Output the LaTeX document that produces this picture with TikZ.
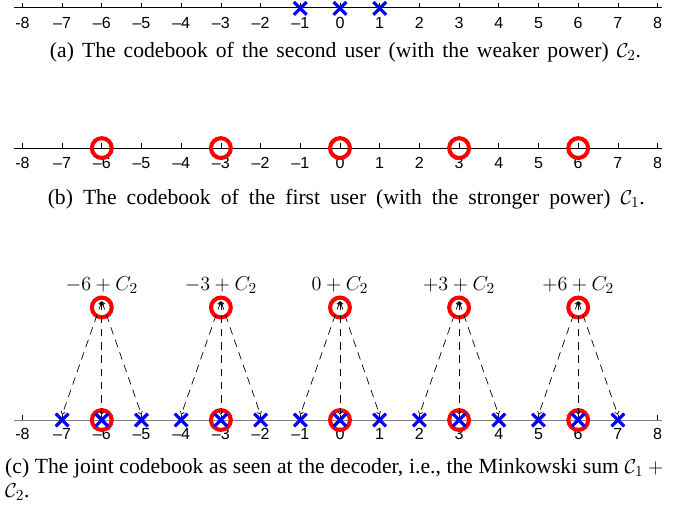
\documentclass[tikz,border=0pt]{standalone}
\usepackage{fontspec}
\setmainfont{Liberation Serif}
\newfontfamily\axisfont{Liberation Sans}
\usetikzlibrary{arrows.meta,shapes.misc}
\definecolor{markred}{RGB}{255,0,0}
\definecolor{markblue}{RGB}{0,0,255}
\definecolor{axisgray}{RGB}{128,128,128}
\newcommand\ticklist{-8/{-8},-7/{–7},-6/{–6},-5/{–5},-4/{–4},-3/{–3},-2/{–2},-1/{–1},0/0,1/1,2/2,3/3,4/4,5/5,6/6,7/7,8/8}

\begin{document}
\begin{tikzpicture}[
  axisline/.style={line width=0.7pt},
  tickmark/.style={line width=0.5pt},
  ticklab/.style={font=\axisfont\fontsize{11.5}{13}\selectfont, inner sep=0pt},
  ring/.style={circle, draw=markred, line width=2.9pt, minimum size=0.5cm, inner sep=0pt},
  xmark/.style={cross out, draw=markblue, line width=2.3pt, minimum size=0.24cm, inner sep=0pt},
  caption/.style={font=\fontsize{15.5}{18}\selectfont, inner sep=0pt},
  setlab/.style={font=\fontsize{15}{17}\selectfont, inner sep=0pt},
  link/.style={dash pattern=on 5.5pt off 4pt, line width=0.5pt,
    {Straight Barb[length=2pt,width=3pt]}-{Straight Barb[length=2pt,width=3pt]}}]
  \useasboundingbox (-8.564,-12.771) rectangle (8.892,0);

  % (a) codebook C2
  \draw[axisline] (-8.21,-0.20) -- (8.12,-0.20);
  \foreach \k/\t in \ticklist {
    \draw[tickmark] (\k,-0.20) -- (\k,-0.07);
    \node[ticklab] (la\k) at (\k,-0.58) {\t};
  }
  \foreach \k in {-1,0,1} \node[xmark] (ua\k) at (\k,-0.21) {};
  \node[caption] (capa) at (0.14,-1.31)
    {\makebox[14.89cm][s]{(a) The codebook of the second user (with the weaker power) $\mathcal{C}_2$.}};

  % (b) codebook C1
  \draw[axisline] (-8.21,-3.73) -- (8.12,-3.73);
  \foreach \k/\t in \ticklist {
    \draw[tickmark] (\k,-3.73) -- (\k,-3.60);
    \node[ticklab] (lb\k) at (\k,-4.10) {\t};
  }
  \foreach \k in {-6,-3,0,3,6} \node[ring] (ub\k) at (\k,-3.73) {};
  \node[caption] (capb) at (0.16,-5.01)
    {\makebox[15.04cm][s]{(b) The codebook of the first user (with the stronger power) $\mathcal{C}_1$.}};

  % (c) joint codebook
  \draw[axisline, axisgray] (-8.21,-10.58) -- (8.12,-10.58);
  \foreach \k/\t in \ticklist {
    \draw[tickmark] (\k,-10.58) -- (\k,-10.45);
    \node[ticklab] (lc\k) at (\k,-10.94) {\t};
  }
  \foreach \k in {-6,-3,0,3,6} \node[ring] (uc\k) at (\k,-10.58) {};
  \foreach \k in {-7,...,7} {
    \node[xmark] (xc\k) at (\k,-10.58) {};
    \coordinate (end\k) at (\k,-10.45);
  }
  \foreach \c/\t in {-6/-6,-3/-3,0/0,3/+3,6/+6} {
    \node[ring] (top\c) at (\c,-7.745) {};
    \node[setlab] (name\c) at (\c,-7.18) {$\t+C_2$};
    \coordinate (fr\c) at (\c,-7.59);
    \pgfmathtruncatemacro\lo{\c-1}
    \pgfmathtruncatemacro\hi{\c+1}
    \draw[link] (fr\c) -- (end\lo);
    \draw[link] (fr\c) -- (end\c);
    \draw[link] (fr\c) -- (end\hi);
  }
  \node[caption, anchor=west] (capc) at (-8.44,-11.80)
    {\makebox[16.70cm][s]{(c) The joint codebook as seen at the decoder, i.e., the Minkowski sum $\mathcal{C}_1+{}$}};
  \node[caption, anchor=west] (capc2) at (-8.44,-12.40) {$\mathcal{C}_2$.};
\end{tikzpicture}
\end{document}
